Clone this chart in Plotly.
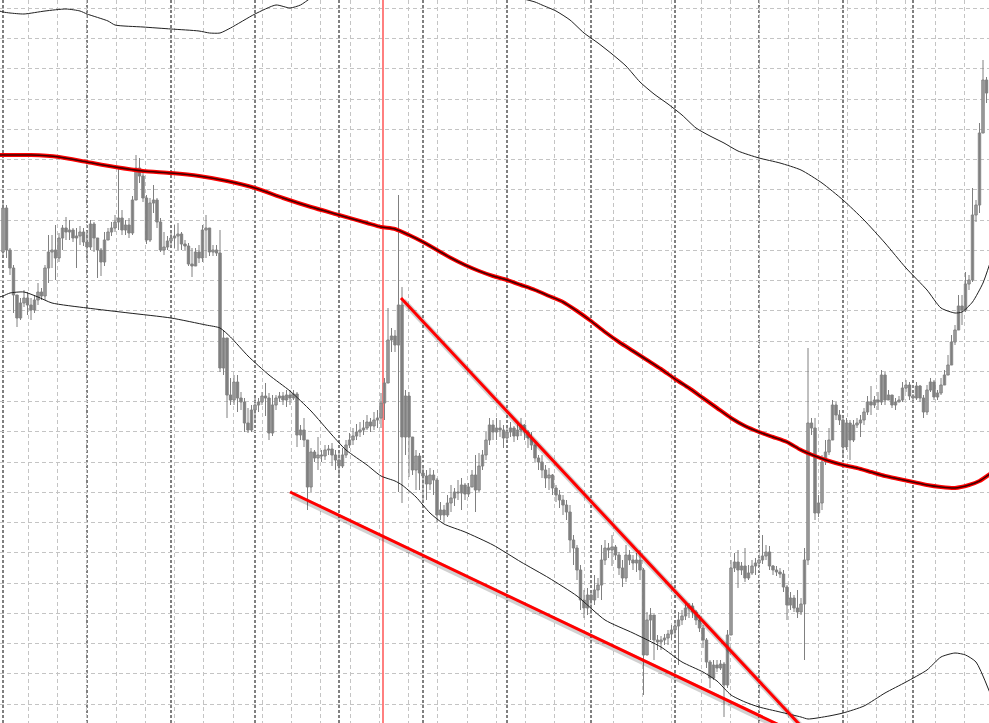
import plotly.graph_objects as go

# ---------------- data (price in points, bar index on x) ----------------
FIRST_OPEN = 748

CLOSE = [
    792,750,732,705,682,697,702,695,690,700, 708,704,732,748,750,742,762,772,768,770,
    762,764,768,758,753,776,762,750,738,760, 768,772,778,782,770,775,767,800,832,824,
    802,760,797,800,778,750,753,759,762,764, 766,756,754,736,734,748,742,770,772,748,
    750,747,632,
    662,605,600,618,602,598,577,570,590,595, 598,604,602,567,595,602,604,600,605,602,
    606,565,570,560,513,548,542,545,544,550, 551,545,540,534,545,555,560,564,568,570,
    572,578,574,580,582,597,617,660,664,655, 695,563,604,563,530,544,527,524,516,525,
    520,485,490,485,497,502,508,507,515,506, 513,525,510,534,
    545,560,575,568,572,570,562,568,572,564, 570,575,568,562,555,542,538,530,522,525,
    512,505,500,495,488,460,452,430,400,392, 405,400,410,415,440,452,450,453,445,432,
    422,445,440,437,440,430,345,380,385,360, 358,360,362,366,370,374,380,384,392,394,
    388,380,372,360,338,322,335,332,336,315, 365,432,438,430,434,422,427,434,437,440,
    444,448,434,430,428,426,413,395,402,392, 388,396,440,577,572,487,
    497,538,548,560,595,585,580,553,577,560, 575,577,580,588,598,595,600,598,625,600,
    605,595,598,600,612,615,604,602,614,602, 588,610,618,603,607,615,625,635,658,670,
    694,690,716,720,785,795,867,920,907,
]

HIGH = [
    800,795,752,735,705,702,710,708,702,705, 717,712,735,765,765,775,767,775,783,780,
    772,772,774,772,770,780,778,762,752,768, 772,778,785,832,790,780,782,804,845,842,
    828,805,802,815,802,782,768,764,768,775, 777,768,760,757,752,752,755,775,785,772,
    755,755,770,
    670,660,622,625,625,608,602,592,595,602, 602,608,617,607,605,605,608,608,610,610,
    610,608,575,582,560,552,550,563,550,555, 555,557,550,548,552,560,567,572,576,578,
    580,585,582,588,590,607,622,692,672,670, 805,713,610,608,563,550,547,534,530,532,
    530,522,498,495,505,515,512,520,522,517, 517,530,545,547,
    550,568,582,580,582,580,575,575,578,574, 578,582,576,570,568,560,545,545,535,532,
    526,515,510,505,500,495,465,455,435,410, 412,410,425,422,455,460,457,465,455,448,
    440,455,450,445,447,450,432,388,392,385, 365,364,366,370,375,380,388,390,398,397,
    397,390,385,375,362,340,340,340,340,338, 370,440,447,450,438,452,435,440,442,445,
    465,455,454,435,434,432,430,415,408,405, 410,402,452,652,582,582,
    505,545,560,572,600,598,590,582,582,580, 580,582,585,592,604,614,604,608,630,628,
    610,605,602,604,618,620,618,606,618,615, 605,615,622,620,610,622,630,645,665,675,
    705,705,728,725,812,800,877,940,923,
]

LOW = [
    745,742,725,687,673,680,693,685,680,687, 695,700,700,717,732,720,738,750,760,760,
    758,732,755,754,740,750,748,722,724,734, 760,764,768,770,765,765,762,765,800,817,
    798,756,758,787,772,748,745,750,755,752, 750,750,750,734,723,736,737,738,742,744,
    744,744,628,
    625,582,595,595,588,590,568,567,568,580, 588,595,584,560,564,590,598,595,593,595,
    600,553,560,553,490,508,538,530,538,540, 545,534,530,523,532,542,552,555,560,563,
    565,570,568,570,572,572,580,617,648,648, 508,497,545,523,525,510,510,500,500,510,
    505,478,480,478,483,488,494,500,490,500, 503,515,488,508,
    530,540,555,560,560,563,552,560,563,558, 560,564,560,552,550,538,530,522,512,510,
    505,498,492,485,480,448,435,420,390,382, 385,388,395,402,400,435,442,434,440,425,
    413,418,435,430,428,420,305,345,360,340, 350,350,355,355,360,365,335,375,380,382,
    382,375,368,352,332,312,320,328,330,283, 312,365,428,412,425,418,420,425,425,434,
    436,440,430,425,424,422,408,380,390,388, 382,385,340,435,565,480,
    483,490,535,545,560,580,575,545,550,540, 558,572,563,575,585,585,592,590,595,595,
    600,592,590,598,598,608,600,598,600,598, 582,585,608,600,600,605,615,625,635,655,
    670,675,688,710,718,778,787,868,897,
]

# moving average (middle band) sampled at bars
MA_BARS = [-1,0,8,16,24,32,40,48,56,64,72,80,88,96,104,108,112,116,120,124,128,132,136,
           140,144,148,152,156,160,164,168,172,176,180,184,188,192,196,200,204,208,212,
           216,220,224,228,232,236,240,244,248,252,256,260,264,268,272,276,279,282]
MA_VALUES = [845,845,845,843,838,833,829,827,824,819,812,802,793,785,777,773,771,765,758,750,
             742,735,729,724,720,715,710,704,698,689,679,668,658,649,640,631,621,612,602,592,
             582,574,568,563,558,550,544,539,535,532,528,524,521,518,515,513,512,515,519,526]

# lower band
LB_BARS = [-1,0,2,6,10,14,24,36,48,58,62,65,70,76,82,88,94,98,104,108,112,114,118,122,126,
           132,140,148,156,164,172,180,188,194,200,204,208,212,216,222,228,230,236,240,246,
           252,258,264,268,272,275,278,282]
LB_VALUES = [703,704,707,708,703,697,692,687,682,675,672,663,644,625,609,589,565,550,535,524,
             519,515,503,487,476,468,455,438,422,404,380,367,353,338,328,319,305,298,293,288,
             283,281,284,287,294,307,318,330,343,347,345,338,307]

# upper band
UB_BARS = [-1,0,2,6,12,18,22,24,30,32,40,48,56,59,62,65,72,78,82,85,88,94,104,114,124,134,
           144,152,154,158,162,166,170,174,178,182,186,190,194,198,202,206,210,216,222,228,
           234,240,246,252,258,264,268,272,274,277,280,282]
UB_VALUES = [989,988,987,986,989,991,989,986,979,975,973,971,969,967,967,972,986,995,992,995,
             1002,1012,1022,1025,1020,1012,1005,998,995,989,980,967,957,946,934,918,906,896,
             885,872,864,857,849,842,837,830,817,800,780,757,732,710,692,687,688,698,717,737]

SEPARATOR_BARS = [0, 24, 48, 72, 96, 120, 144, 168, 192, 216, 240, 260]
MARKER_BAR = 108.57
TREND_UPPER = [(113.71, 702.0), (227.71, 275.0)]
TREND_LOWER = [(82.0, 508.0), (222.0, 274.6)]

# ---------------- build ----------------
N = len(CLOSE)
if not (len(HIGH) == N and len(LOW) == N):
    raise SystemExit(f"length mismatch {len(CLOSE)} {len(HIGH)} {len(LOW)}")
BARS = list(range(N))
OPEN = [FIRST_OPEN] + CLOSE[:-1]
HIGH = [max(h, o, c) for h, o, c in zip(HIGH, OPEN, CLOSE)]
LOW = [min(l, o, c) for l, o, c in zip(LOW, OPEN, CLOSE)]

WICK = "#808080"
fig = go.Figure()

wx, wy = [], []
for i in BARS:
    wx += [i, i, None]
    wy += [LOW[i], HIGH[i], None]
fig.add_trace(go.Scatter(x=wx, y=wy, mode="lines", line=dict(color=WICK, width=1),
                         hoverinfo="skip"))

def body(idx, fill, edge):
    return go.Bar(
        x=idx,
        y=[max(abs(CLOSE[i] - OPEN[i]), 1.0) for i in idx],
        base=[min(CLOSE[i], OPEN[i]) for i in idx],
        width=0.68,
        marker=dict(color=fill, line=dict(color=edge, width=1)),
        hoverinfo="skip",
    )

bull = [i for i in BARS if CLOSE[i] >= OPEN[i]]
bear = [i for i in BARS if CLOSE[i] < OPEN[i]]
fig.add_trace(body(bull, "#c0c0c0", "#808080"))
fig.add_trace(body(bear, "#808080", "#808080"))

# bands
for bx, by in ((UB_BARS, UB_VALUES), (LB_BARS, LB_VALUES)):
    fig.add_trace(go.Scatter(x=bx, y=by, mode="lines",
                             line=dict(color="#202020", width=1, shape="spline", smoothing=0.6),
                             hoverinfo="skip"))
fig.add_trace(go.Scatter(x=MA_BARS, y=MA_VALUES, mode="lines",
                         line=dict(color="#ff0000", width=4, shape="spline", smoothing=0.6),
                         hoverinfo="skip"))
fig.add_trace(go.Scatter(x=MA_BARS, y=MA_VALUES, mode="lines",
                         line=dict(color="#400000", width=1.5, shape="spline", smoothing=0.6),
                         hoverinfo="skip"))

shapes = []
for b in SEPARATOR_BARS:
    shapes.append(dict(type="line", xref="x", yref="paper", x0=b, x1=b, y0=0, y1=1,
                       line=dict(color="#000000", width=1, dash="3px,2px"), layer="between"))
shapes.append(dict(type="line", xref="x", yref="paper", x0=MARKER_BAR, x1=MARKER_BAR,
                   y0=0, y1=1, line=dict(color="#ff2a2a", width=1.2), layer="between"))
for (x0, y0), (x1, y1) in (TREND_UPPER, TREND_LOWER):
    shapes.append(dict(type="line", xref="x", yref="y", x0=x0 + 0.7, y0=y0 - 3,
                       x1=x1 + 0.7, y1=y1 - 3,
                       line=dict(color="rgba(0,0,0,0.18)", width=6), layer="above"))
    shapes.append(dict(type="line", xref="x", yref="y", x0=x0, y0=y0, x1=x1, y1=y1,
                       line=dict(color="#ff0000", width=3), layer="above"))

fig.update_layout(
    width=989, height=723,
    margin=dict(l=0, r=0, t=0, b=0),
    paper_bgcolor="white", plot_bgcolor="white",
    showlegend=False, barmode="overlay", hovermode=False,
    shapes=shapes,
    xaxis=dict(range=[-3 / 3.5, 986 / 3.5], showgrid=True, gridcolor="#c4c4c4",
               griddash="4px,3px", gridwidth=1, tickmode="linear", tick0=7.23, dtick=8.357,
               showticklabels=False, zeroline=False, showline=False, ticks=""),
    yaxis=dict(range=[277, 1000], showgrid=True, gridcolor="#c4c4c4",
               griddash="4px,3px", gridwidth=1, tickmode="linear", tick0=991.7, dtick=30.25,
               showticklabels=False, zeroline=False, showline=False, ticks=""),
)

fig.write_html("out.html", config={"displayModeBar": False},
               post_script="document.body.style.margin='0';document.body.style.overflow='hidden';")
